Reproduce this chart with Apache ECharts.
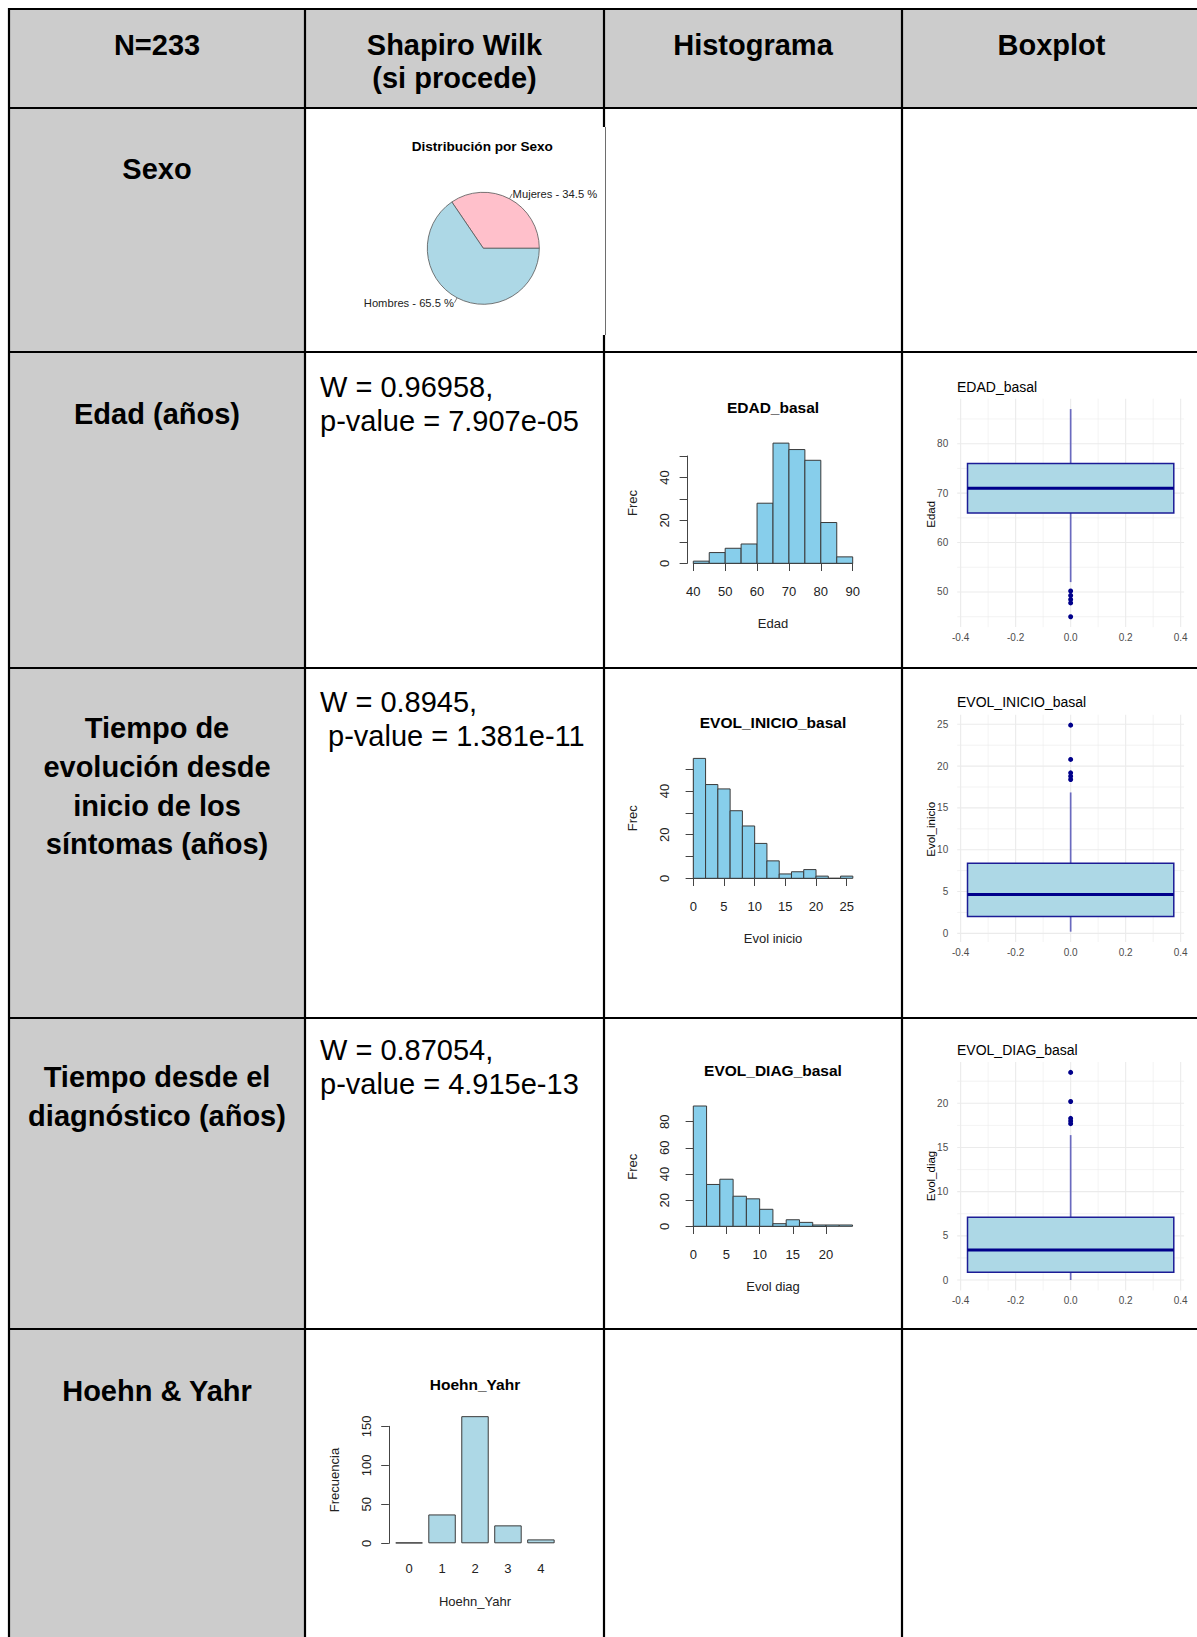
<!DOCTYPE html>
<html>
<head>
<meta charset="utf-8">
<title>Tabla descriptiva N=233</title>
<script src="https://cdn.jsdelivr.net/npm/echarts@6/dist/echarts.min.js"></script>
<style>
html,body{margin:0;padding:0;background:#ffffff;}
#chart{width:1197px;height:1637px;}
</style>
</head>
<body>
<div id="chart"></div>
<script>
// ================= DATA =================
const headerLabels = [['N=233'], ['Shapiro Wilk', '(si procede)'], ['Histograma'], ['Boxplot']];
const rowLabels = [['Sexo'], ['Edad (años)'], ['Tiempo de', 'evolución desde', 'inicio de los', 'síntomas (años)'], ['Tiempo desde el', 'diagnóstico (años)'], ['Hoehn & Yahr']];
const shapiroLabels = [[], ['W = 0.96958,', 'p-value = 7.907e-05'], ['W = 0.8945,', ' p-value = 1.381e-11'], ['W = 0.87054,', 'p-value = 4.915e-13'], []];

const sexoTitle = 'Distribución por Sexo';
const sexoCategories = ['Mujeres', 'Hombres'];
const sexoPercent = [34.5, 65.5];

const histTitles = ['EDAD_basal', 'EVOL_INICIO_basal', 'EVOL_DIAG_basal'];
const histXNames = ['Edad', 'Evol inicio', 'Evol diag'];
const histYName = 'Frec';

const edadBreaks = [40, 45, 50, 55, 60, 65, 70, 75, 80, 85, 90];
const edadCounts = [1, 5, 7, 9, 28, 56, 53, 48, 19, 3];
const edadHistYLabels = [0, 20, 40];

const inicioBreaks = [0, 2, 4, 6, 8, 10, 12, 14, 16, 18, 20, 22, 24, 26];
const inicioCounts = [55, 43, 41, 31, 24, 16, 8, 2, 3, 4, 1, 0, 1];
const inicioHistYLabels = [0, 20, 40];

const diagBreaks = [0, 2, 4, 6, 8, 10, 12, 14, 16, 18, 20, 22, 24];
const diagCounts = [92, 32, 36, 23, 21, 13, 2, 5, 3, 1, 1, 1];
const diagHistYLabels = [0, 20, 40, 60, 80];

const boxTitles = ['EDAD_basal', 'EVOL_INICIO_basal', 'EVOL_DIAG_basal'];
const boxYNames = ['Edad', 'Evol_inicio', 'Evol_diag'];
// [lower whisker, Q1, median, Q3, upper whisker]
const edadBox = [52, 66, 71, 76, 87];
const edadOutliers = [50.2, 49.3, 48.5, 47.8, 45.0];
const inicioBox = [0.2, 2.0, 4.66, 8.37, 16.85];
const inicioOutliers = [24.9, 20.8, 19.2, 18.8, 18.4];
const diagBox = [0, 0.87, 3.4, 7.1, 16.4];
const diagOutliers = [23.5, 20.2, 18.3, 18.0, 17.7];

const boxXMajor = [-0.4, -0.2, 0, 0.2, 0.4];
const boxXMinor = [-0.3, -0.1, 0.1, 0.3];
const edadYMajor = [50, 60, 70, 80];
const edadYMinor = [45, 55, 65, 75, 85];
const inicioYMajor = [0, 5, 10, 15, 20, 25];
const inicioYMinor = [2.5, 7.5, 12.5, 17.5, 22.5];
const diagYMajor = [0, 5, 10, 15, 20];
const diagYMinor = [2.5, 7.5, 12.5, 17.5, 22.5];

const hyTitle = 'Hoehn_Yahr';
const hyXName = 'Hoehn_Yahr';
const hyYName = 'Frecuencia';
const hyCategories = ['0', '1', '2', '3', '4'];
const hyCounts = [1, 37, 163, 23, 5];
const hyYLabels = [0, 50, 100, 150];

// ================= LAYOUT =================
const FF = '"Liberation Sans", Arial, Helvetica, sans-serif';
const COLS = [9, 305, 604, 902, 1201];
const ROWS = [9, 108, 352, 668, 1018, 1329, 1640];
const GRAY = '#cccccc';

const graphics = [];
function txt(x, y, text, o) {
  graphics.push({
    type: 'text', x: x, y: y, rotation: o.rot || 0, silent: true, z: 10,
    style: {
      text: text, fontFamily: FF, fontSize: o.size, fontWeight: o.bold ? 'bold' : 'normal',
      fill: o.color || '#000', align: o.align || 'center', verticalAlign: 'middle'
    }
  });
}
function line(x1, y1, x2, y2, w, c) {
  graphics.push({type: 'line', silent: true, z: 5, shape: {x1: x1, y1: y1, x2: x2, y2: y2},
    style: {stroke: c || '#000', lineWidth: w || 2.2}});
}
// backgrounds
graphics.push({type: 'rect', silent: true, z: 0, shape: {x: COLS[0], y: ROWS[0], width: COLS[4] - COLS[0], height: ROWS[1] - ROWS[0]}, style: {fill: GRAY}});
graphics.push({type: 'rect', silent: true, z: 0, shape: {x: COLS[0], y: ROWS[1], width: COLS[1] - COLS[0], height: ROWS[6] - ROWS[1]}, style: {fill: GRAY}});
// borders
for (let i = 0; i < 6; i++) line(COLS[0] - 1, ROWS[i], COLS[4], ROWS[i]);
line(COLS[0], ROWS[0] - 1, COLS[0], ROWS[6]);
line(COLS[1], ROWS[0] - 1, COLS[1], ROWS[6]);
line(COLS[3], ROWS[0] - 1, COLS[3], ROWS[6]);
line(COLS[2], ROWS[0] - 1, COLS[2], 127);
line(COLS[2], 335, COLS[2], ROWS[6]);
line(COLS[2] + 1.5, 127, COLS[2] + 1.5, 335, 1, '#6e6e6e');

// header texts
headerLabels.forEach(function (lines, ci) {
  const cx = (COLS[ci] + COLS[ci + 1]) / 2;
  lines.forEach(function (t, li) { txt(cx, 44.9 + li * 33.4, t, {size: 29, bold: true}); });
});
// row labels
const rowFirstY = [169.1, 414.3, 728.4, 1077.0, 1391.1];
rowLabels.forEach(function (lines, ri) {
  lines.forEach(function (t, li) { txt((COLS[0] + COLS[1]) / 2, rowFirstY[ri] + li * 38.6, t, {size: 29, bold: true}); });
});
// shapiro texts
const shapFirstY = [0, 387.2, 702.3, 1049.9, 0];
shapiroLabels.forEach(function (lines, ri) {
  lines.forEach(function (t, li) { txt(320, shapFirstY[ri] + li * 33.8, t, {size: 29, align: 'left'}); });
});

// chart texts
txt(482.3, 146.7, sexoTitle, {size: 13.6, bold: true});
const histTitleY = [407.7, 722.7, 1070.7];
const histYNameY = [503, 818.3, 1166.7];
const histXNameY = [623, 938.3, 1286.7];
for (let i = 0; i < 3; i++) {
  txt(773, histTitleY[i], histTitles[i], {size: 15.5, bold: true});
  txt(632.3, histYNameY[i], histYName, {size: 13, rot: Math.PI / 2, color: '#222'});
  txt(773, histXNameY[i], histXNames[i], {size: 13, color: '#222'});
}
const boxTitleY = [387.3, 702.3, 1050];
const boxYNameY = [514.3, 829.3, 1176];
for (let i = 0; i < 3; i++) {
  txt(957, boxTitleY[i], boxTitles[i], {size: 14, align: 'left'});
  txt(931, boxYNameY[i], boxYNames[i], {size: 11.5, rot: Math.PI / 2});
}
txt(475, 1384.3, hyTitle, {size: 15.5, bold: true});
txt(334.3, 1480, hyYName, {size: 13, rot: Math.PI / 2, color: '#222'});
txt(475, 1601.7, hyXName, {size: 13, color: '#222'});

// ================= HELPERS =================
function histData(breaks, counts) {
  return counts.map(function (c, i) { return [breaks[i], breaks[i + 1], c]; });
}
function histRender(params, api) {
  const a = api.coord([api.value(0), 0]);
  const b = api.coord([api.value(1), api.value(2)]);
  return {type: 'rect', shape: {x: a[0], y: b[1], width: b[0] - a[0], height: a[1] - b[1]},
    style: {fill: '#87CEEB', stroke: '#3a3a3a', lineWidth: 1}};
}
function boxRender(params, api) {
  const lo = api.value(0), q1 = api.value(1), md = api.value(2), q3 = api.value(3), hi = api.value(4);
  const hw = 0.375;
  const pLo = api.coord([0, lo]), pQ1 = api.coord([0, q1]), pQ3 = api.coord([0, q3]), pHi = api.coord([0, hi]);
  const bl = api.coord([-hw, q1]), tr = api.coord([hw, q3]);
  const ml = api.coord([-hw, md]), mr = api.coord([hw, md]);
  return {type: 'group', children: [
    {type: 'line', shape: {x1: pLo[0], y1: pLo[1], x2: pQ1[0], y2: pQ1[1]}, style: {stroke: '#6a6abf', lineWidth: 1.7}},
    {type: 'line', shape: {x1: pQ3[0], y1: pQ3[1], x2: pHi[0], y2: pHi[1]}, style: {stroke: '#6a6abf', lineWidth: 1.7}},
    {type: 'rect', shape: {x: bl[0], y: tr[1], width: tr[0] - bl[0], height: bl[1] - tr[1]}, style: {fill: '#ADD8E6', stroke: '#1c1c96', lineWidth: 1.5}},
    {type: 'line', shape: {x1: ml[0], y1: ml[1], x2: mr[0], y2: mr[1]}, style: {stroke: '#00008B', lineWidth: 3}}
  ]};
}
function gridData(xMaj, xMin, yMaj, yMin) {
  const d = [];
  xMin.forEach(function (v) { d.push([0, v, 0]); });
  yMin.forEach(function (v) { d.push([1, v, 0]); });
  xMaj.forEach(function (v) { d.push([0, v, 1]); });
  yMaj.forEach(function (v) { d.push([1, v, 1]); });
  return d;
}
function gridRender(params, api) {
  const cs = params.coordSys;
  const ax = api.value(0), v = api.value(1), major = api.value(2);
  let shape;
  if (ax === 0) {
    const x = api.coord([v, 0])[0];
    shape = {x1: x, y1: cs.y, x2: x, y2: cs.y + cs.height};
  } else {
    const y = api.coord([0, v])[1];
    shape = {x1: cs.x, y1: y, x2: cs.x + cs.width, y2: y};
  }
  return {type: 'line', shape: shape, style: {stroke: '#EBEBEB', lineWidth: major ? 1.1 : 0.6}};
}
function boxRange(box, outs) {
  const lo = Math.min(box[0], Math.min.apply(null, outs));
  const hi = Math.max(box[4], Math.max.apply(null, outs));
  const pad = 0.05 * (hi - lo);
  return [lo - pad, hi + pad];
}

// ================= AXES =================
const axisLineStyle = {show: true, lineStyle: {color: '#444', width: 1}};
const tickStyle = {show: true, length: 7.7, lineStyle: {color: '#444', width: 1}};
function histX(gi, min, max, interval) {
  return {gridIndex: gi, type: 'value', min: min, max: max, interval: interval, offset: 4,
    axisLine: axisLineStyle, axisTick: tickStyle, splitLine: {show: false},
    axisLabel: {margin: 17.5, fontSize: 13, color: '#222', fontFamily: FF}};
}
function histY(gi, max, interval, labels) {
  return {gridIndex: gi, type: 'value', min: 0, max: max, interval: interval, offset: 6,
    axisLine: axisLineStyle, axisTick: tickStyle, splitLine: {show: false},
    axisLabel: {margin: 16, rotate: 90, fontSize: 13, color: '#222', fontFamily: FF,
      formatter: function (v) { return labels.indexOf(v) >= 0 ? String(v) : ''; }}};
}
function boxX(gi) {
  return {gridIndex: gi, type: 'value', min: -0.4125, max: 0.4125,
    axisLine: {show: false}, axisTick: {show: false}, splitLine: {show: false},
    axisLabel: {customValues: boxXMajor, margin: 5.5, fontSize: 10, color: '#4D4D4D', fontFamily: FF,
      formatter: function (v) { return Number(v).toFixed(1); }}};
}
function boxY(gi, range, majors) {
  return {gridIndex: gi, type: 'value', min: range[0], max: range[1],
    axisLine: {show: false}, axisTick: {show: false}, splitLine: {show: false},
    axisLabel: {customValues: majors, margin: 9, fontSize: 10, color: '#4D4D4D', fontFamily: FF,
      formatter: function (v) { return String(Math.round(v)); }}};
}

const edadRange = boxRange(edadBox, edadOutliers);
const inicioRange = boxRange(inicioBox, inicioOutliers);
const diagRange = boxRange(diagBox, diagOutliers);

const option = {
  animation: false,
  backgroundColor: '#ffffff',
  graphic: {elements: graphics},
  grid: [
    {left: 693.3, top: 456.0, width: 159.4, height: 107.3},
    {left: 693.3, top: 769.3, width: 153.4, height: 109.0},
    {left: 693.3, top: 1121.7, width: 132.7, height: 104.6},
    {left: 957.2, top: 398.7, width: 226.9, height: 228.4},
    {left: 957.2, top: 714.8, width: 226.9, height: 227.2},
    {left: 957.2, top: 1062.0, width: 226.9, height: 228.4},
    {left: 392.6, top: 1426.3, width: 164.8, height: 117.0}
  ],
  xAxis: [
    histX(0, 40, 90, 10),
    histX(1, 0, 25, 5),
    histX(2, 0, 20, 5),
    boxX(3), boxX(4), boxX(5),
    {gridIndex: 6, type: 'category', data: hyCategories, boundaryGap: true,
      axisLine: {show: false}, axisTick: {show: false}, splitLine: {show: false},
      axisLabel: {margin: 18.8, fontSize: 13, color: '#222', fontFamily: FF}}
  ],
  yAxis: [
    histY(0, 50, 10, edadHistYLabels),
    histY(1, 50, 10, inicioHistYLabels),
    histY(2, 80, 20, diagHistYLabels),
    boxY(3, edadRange, edadYMajor),
    boxY(4, inicioRange, inicioYMajor),
    boxY(5, diagRange, diagYMajor),
    {gridIndex: 6, type: 'value', min: 0, max: 150, interval: 50, offset: 3.7,
      axisLine: axisLineStyle, axisTick: tickStyle, splitLine: {show: false},
      axisLabel: {margin: 16, rotate: 90, fontSize: 13, color: '#222', fontFamily: FF,
        formatter: function (v) { return hyYLabels.indexOf(v) >= 0 ? String(v) : ''; }}}
  ],
  series: [
    {type: 'pie', center: [483.3, 248.3], radius: 56, startAngle: 0, clockwise: false,
      avoidLabelOverlap: false, silent: true,
      data: sexoCategories.map(function (n, i) { return {name: n, value: sexoPercent[i]}; }),
      color: ['#FFC0CB', '#ADD8E6'],
      itemStyle: {borderColor: '#555', borderWidth: 0.8},
      label: {show: true, position: 'outside', distanceToLabelLine: 0.5, fontSize: 11.2, color: '#222', fontFamily: FF,
        formatter: function (p) { return p.name + ' - ' + p.value + ' %'; }},
      labelLine: {show: true, length: 5.6, length2: 0, lineStyle: {color: '#555', width: 0.8}}},
    {type: 'custom', xAxisIndex: 0, yAxisIndex: 0, clip: false, silent: true, encode: {x: [0, 1], y: 2},
      data: histData(edadBreaks, edadCounts), renderItem: histRender},
    {type: 'custom', xAxisIndex: 1, yAxisIndex: 1, clip: false, silent: true, encode: {x: [0, 1], y: 2},
      data: histData(inicioBreaks, inicioCounts), renderItem: histRender},
    {type: 'custom', xAxisIndex: 2, yAxisIndex: 2, clip: false, silent: true, encode: {x: [0, 1], y: 2},
      data: histData(diagBreaks, diagCounts), renderItem: histRender},
    {type: 'custom', xAxisIndex: 3, yAxisIndex: 3, z: 1, silent: true, data: gridData(boxXMajor, boxXMinor, edadYMajor, edadYMinor), renderItem: gridRender},
    {type: 'custom', xAxisIndex: 4, yAxisIndex: 4, z: 1, silent: true, data: gridData(boxXMajor, boxXMinor, inicioYMajor, inicioYMinor), renderItem: gridRender},
    {type: 'custom', xAxisIndex: 5, yAxisIndex: 5, z: 1, silent: true, data: gridData(boxXMajor, boxXMinor, diagYMajor, diagYMinor), renderItem: gridRender},
    {type: 'custom', xAxisIndex: 3, yAxisIndex: 3, z: 3, silent: true, data: [edadBox], renderItem: boxRender},
    {type: 'custom', xAxisIndex: 4, yAxisIndex: 4, z: 3, silent: true, data: [inicioBox], renderItem: boxRender},
    {type: 'custom', xAxisIndex: 5, yAxisIndex: 5, z: 3, silent: true, data: [diagBox], renderItem: boxRender},
    {type: 'scatter', xAxisIndex: 3, yAxisIndex: 3, z: 4, silent: true, symbolSize: 5, itemStyle: {color: '#00008B', opacity: 1},
      data: edadOutliers.map(function (v) { return [0, v]; })},
    {type: 'scatter', xAxisIndex: 4, yAxisIndex: 4, z: 4, silent: true, symbolSize: 5, itemStyle: {color: '#00008B', opacity: 1},
      data: inicioOutliers.map(function (v) { return [0, v]; })},
    {type: 'scatter', xAxisIndex: 5, yAxisIndex: 5, z: 4, silent: true, symbolSize: 5, itemStyle: {color: '#00008B', opacity: 1},
      data: diagOutliers.map(function (v) { return [0, v]; })},
    {type: 'bar', xAxisIndex: 6, yAxisIndex: 6, clip: false, silent: true, barCategoryGap: '16.667%',
      itemStyle: {color: '#ADD8E6', borderColor: '#3a3a3a', borderWidth: 1},
      data: hyCounts}
  ]
};

const chart = echarts.init(document.getElementById('chart'), null, {renderer: 'svg', width: 1197, height: 1637});
chart.setOption(option);
</script>
</body>
</html>
